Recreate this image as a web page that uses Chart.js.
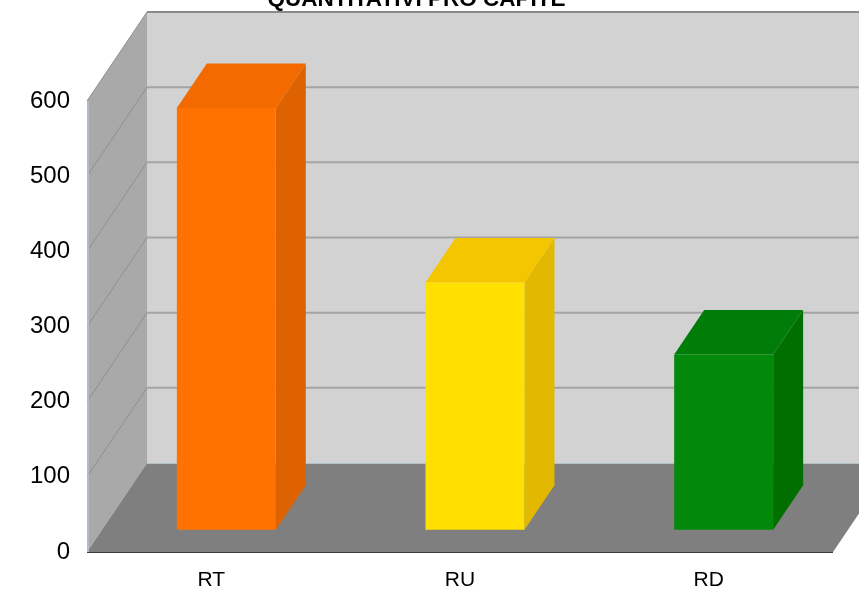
<!DOCTYPE html>
<html>
<head>
<meta charset="utf-8">
<script src="https://cdn.jsdelivr.net/npm/chart.js@4"></script>
<style>
  html, body { margin: 0; padding: 0; background: #fff; overflow: hidden; }
  .wrap { position: absolute; left: 0; top: -14px; width: 859px; height: 603px; }
</style>
</head>
<body>
<div class="wrap"><canvas id="chart" width="859" height="603"></canvas></div>
<script>
const categories = ['RT', 'RU', 'RD'];
const values = [561, 329, 233];
const yMin = 0;
const yMax = 600;
const yStep = 100;
const titleText = 'QUANTITATIVI PRO CAPITE';

const frontColors = ['#ff7200', '#ffe000', '#02890a'];
const topColors = ['#f26a00', '#f3c600', '#007c08'];
const sideColors = ['#df6200', '#e3b800', '#006f00'];

// depth of the 3d box, in pixels
const DX = 60;
const DY = -89;
// bars stand between these depth fractions
const F0 = 0.25;
const F1 = 0.75;

function poly(ctx, pts, fill) {
  ctx.beginPath();
  ctx.moveTo(pts[0][0], pts[0][1]);
  for (let i = 1; i < pts.length; i++) ctx.lineTo(pts[i][0], pts[i][1]);
  ctx.closePath();
  ctx.fillStyle = fill;
  ctx.fill();
}

function seg(ctx, x1, y1, x2, y2, color, w) {
  ctx.beginPath();
  ctx.moveTo(x1, y1);
  ctx.lineTo(x2, y2);
  ctx.strokeStyle = color;
  ctx.lineWidth = w;
  ctx.stroke();
}

const box3d = {
  id: 'box3d',
  beforeDatasetsDraw(chart) {
    const { ctx, chartArea: a, scales: { y } } = chart;
    const y0 = y.getPixelForValue(yMin);
    const yT = y.getPixelForValue(yMax);
    const L = a.left, R = a.right;

    ctx.save();
    // back wall
    poly(ctx, [[L + DX, yT + DY], [R + DX, yT + DY], [R + DX, y0 + DY], [L + DX, y0 + DY]], '#d2d2d2');
    // left wall
    poly(ctx, [[L, y0], [L, yT], [L + DX, yT + DY], [L + DX, y0 + DY]], '#a9a9a9');
    // floor
    poly(ctx, [[L, y0], [R, y0], [R + DX, y0 + DY], [L + DX, y0 + DY]], '#7f7f7f');

    // grid lines
    y.ticks.forEach(t => {
      if (t.value === yMin) return;
      const py = y.getPixelForValue(t.value);
      if (t.value < yMax) seg(ctx, L + DX, py + DY, R + DX, py + DY, '#a4a4a4', 2);
      seg(ctx, L, py, L + DX, py + DY, '#8e8e8e', 1);
    });
    seg(ctx, L + DX, yT + DY, R + DX, yT + DY, '#8a8a8a', 2);
    seg(ctx, L + DX, y0 + DY + 0.5, R + DX, y0 + DY + 0.5, '#b4c0c8', 1);
    seg(ctx, L + 1, yT, L + 1, y0, '#b2bcc6', 2);
    seg(ctx, L, y0 + 0.5, R, y0 + 0.5, '#3c3c3c', 1);

    // top and side faces of the bars
    const meta = chart.getDatasetMeta(0);
    const bx = DX * (F1 - F0), by = DY * (F1 - F0);
    meta.data.forEach((bar, i) => {
      const xl = bar.x - bar.width / 2 + DX * F0;
      const xr = bar.x + bar.width / 2 + DX * F0;
      const yt = bar.y + DY * F0;
      const yb = bar.base + DY * F0;
      poly(ctx, [[xr, yt], [xr + bx, yt + by], [xr + bx, yb + by], [xr, yb]], sideColors[i]);
      poly(ctx, [[xl, yt], [xl + bx, yt + by], [xr + bx, yt + by], [xr, yt]], topColors[i]);
    });
    ctx.restore();

    // front faces are drawn by chart.js, moved into the bar plane
    ctx.save();
    ctx.translate(DX * F0, DY * F0);
  },
  afterDatasetsDraw(chart) {
    chart.ctx.restore();
  }
};

new Chart(document.getElementById('chart'), {
  type: 'bar',
  data: {
    labels: categories,
    datasets: [{
      data: values,
      backgroundColor: frontColors,
      borderWidth: 0,
      categoryPercentage: 1,
      barPercentage: 0.398,
      clip: false
    }]
  },
  options: {
    responsive: false,
    animation: false,
    devicePixelRatio: 1,
    layout: { padding: { left: 0, right: 26, top: 0, bottom: 0 } },
    plugins: {
      legend: { display: false },
      tooltip: { enabled: false },
      title: {
        display: true,
        text: titleText,
        color: '#000',
        font: { family: 'Liberation Sans, Arial, sans-serif', size: 22.5, weight: 'bold' },
        padding: { top: 0, bottom: 88 }
      }
    },
    scales: {
      x: {
        grid: { display: false, drawTicks: false },
        border: { display: false },
        ticks: {
          color: '#000',
          padding: 16,
          font: { family: 'Liberation Sans, Arial, sans-serif', size: 21 }
        },
        afterFit(scale) { scale.height = 37; }
      },
      y: {
        min: yMin,
        max: yMax,
        grid: { display: false, drawTicks: false },
        border: { display: false },
        ticks: {
          stepSize: yStep,
          color: '#000',
          padding: 17,
          font: { family: 'Liberation Sans, Arial, sans-serif', size: 24 }
        },
        afterFit(scale) { scale.width = 87; }
      }
    }
  },
  plugins: [box3d]
});
</script>
</body>
</html>
